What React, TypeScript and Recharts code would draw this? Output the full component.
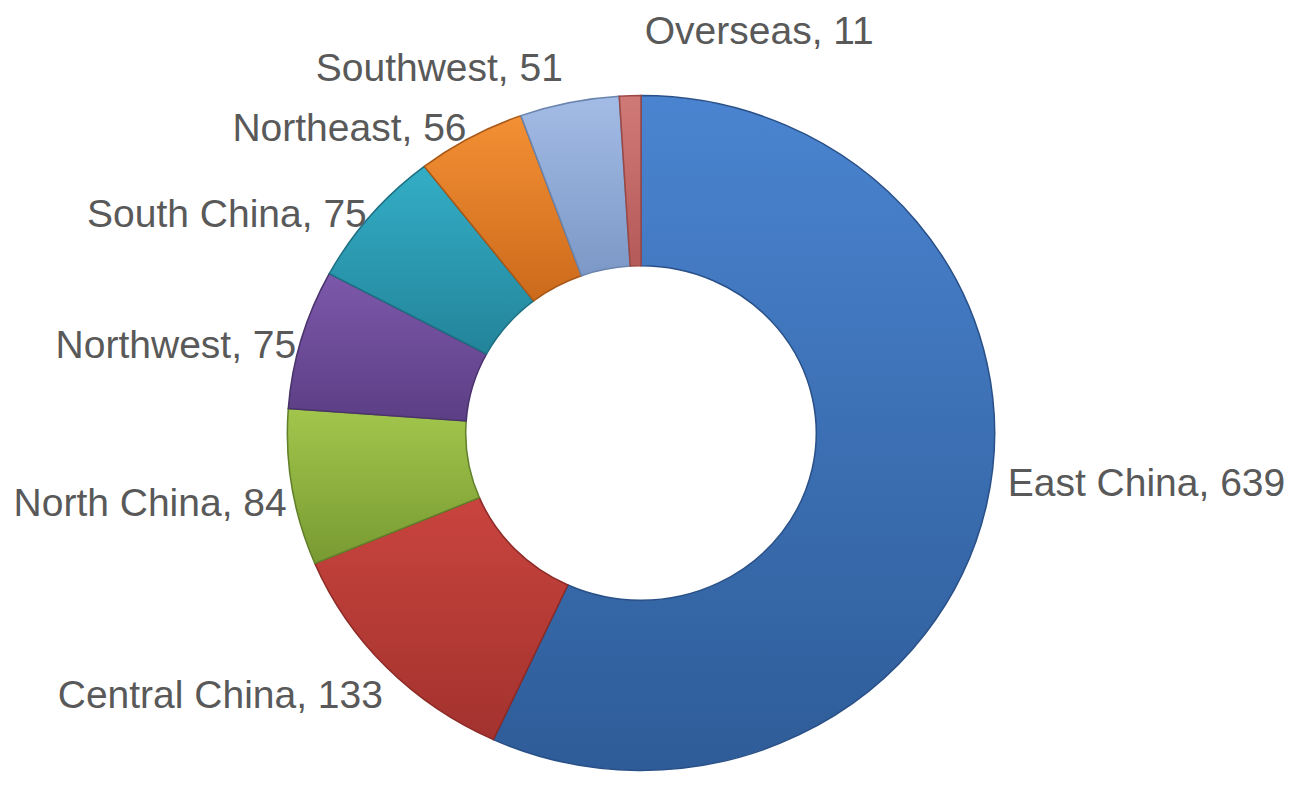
import React from "react";
import { PieChart, Pie, Cell } from "recharts";

if (typeof document !== "undefined") {
  document.body.style.margin = "0";
}

const regions = [
  "East China",
  "Central China",
  "North China",
  "Northwest",
  "South China",
  "Northeast",
  "Southwest",
  "Overseas",
];
const counts = [639, 133, 84, 75, 75, 56, 51, 11];

// top / bottom shade of each slice
const lightShades = ["#4a84d0", "#c9443e", "#a2c64c", "#7d58ab", "#33aec6", "#f39034", "#a3bce6", "#d07a78"];
const darkShades = ["#2e5c98", "#a3322e", "#789a32", "#5b3e84", "#23849a", "#cc6a1c", "#7c98c6", "#b45a58"];
const edgeColors = ["#2a5088", "#8c2a26", "#62802a", "#4a336c", "#1d6f82", "#a85818", "#6a84ae", "#9a4846"];

const data = regions.map((name, i) => ({ name, value: counts[i] }));

const RAD = Math.PI / 180;

const renderLabel = (props: any) => {
  const { cx, cy, midAngle, outerRadius, index } = props;
  const up = Math.max(0, Math.sin(midAngle * RAD));
  // labels close to the top are pushed further out so they clear the ring
  const r = outerRadius + 14 + 40 * Math.pow(up, 20);
  const x = cx + r * Math.cos(-midAngle * RAD);
  const y = cy + r * Math.sin(-midAngle * RAD);
  const right = x >= cx - 15;
  const dy = right ? -4 - 24 * Math.max(0, Math.cos(midAngle * RAD)) : 12;
  return (
    <text
      x={right ? x + 16 : x}
      y={y}
      dy={dy}
      fill="#595959"
      fontSize={39}
      fontFamily="'Liberation Sans', Arial, sans-serif"
      textAnchor={right ? "start" : "end"}
      dominantBaseline="central"
    >
      {`${regions[index]}, ${counts[index]}`}
    </text>
  );
};

export default function App() {
  return (
    <div style={{ width: 1307, height: 799, background: "#fff" }}>
      <style>{`.recharts-pie-sector { transform: scale(1.025, 0.978); transform-origin: 641px 433px; }`}</style>
      <PieChart width={1307} height={799} margin={{ top: 0, right: 0, bottom: 0, left: 0 }}>
        <defs>
          {lightShades.map((c, i) => (
            <linearGradient key={i} id={`shade-${i}`} x1="0" y1="0" x2="0" y2="1">
              <stop offset="0%" stopColor={c} />
              <stop offset="100%" stopColor={darkShades[i]} />
            </linearGradient>
          ))}
        </defs>
        <Pie
          data={data}
          dataKey="value"
          nameKey="name"
          cx={641}
          cy={433}
          innerRadius={171}
          outerRadius={345}
          startAngle={90}
          endAngle={-270}
          label={renderLabel}
          labelLine={false}
          isAnimationActive={false}
        >
          {data.map((d, i) => (
            <Cell key={d.name} fill={`url(#shade-${i})`} stroke={edgeColors[i]} strokeWidth={1.5} />
          ))}
        </Pie>
      </PieChart>
    </div>
  );
}
